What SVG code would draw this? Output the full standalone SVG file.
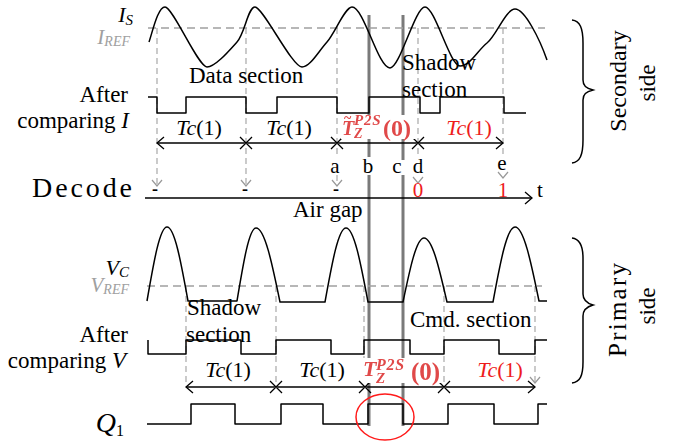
<svg xmlns="http://www.w3.org/2000/svg" width="678" height="443" viewBox="0 0 678 443">
<defs>
<style>
svg{font-family:"Liberation Serif","Times New Roman",serif;font-size:23px}
.it{font-style:italic}
.gr{fill:#a0a0a0}
.red{fill:#ee1c1c}
.tz{fill:#e04848;font-weight:bold}
.wave{fill:none;stroke:#000;stroke-width:1.5;stroke-linejoin:round}
.ref{fill:none;stroke:#a0a0a0;stroke-width:1.5;stroke-dasharray:8 5}
.vd{fill:none;stroke:#a8a8a8;stroke-width:1.2;stroke-dasharray:6 4}
.thick{stroke:#7a7a7a;stroke-width:3}
.ga{fill:none;stroke:#999;stroke-width:1.2}
.ar{fill:none;stroke:#000;stroke-width:1.3}
.brace{fill:none;stroke:#000;stroke-width:1.5}
</style>
<filter id="soft" x="-10%" y="-10%" width="120%" height="120%"><feGaussianBlur stdDeviation="0.6"/></filter>
</defs>
<rect width="678" height="443" fill="#fff"/>

<g id="marker-lines">
<line class="thick" x1="369" y1="15" x2="369" y2="426"/>
<line class="thick" x1="403" y1="15" x2="403" y2="426"/>
</g>

<g id="connectors">
<line class="ref" x1="148" y1="28" x2="545" y2="28"/>
<line class="ref" x1="147" y1="286" x2="542" y2="286"/>
<line class="vd" x1="157" y1="28" x2="157" y2="185"/>
<line class="vd" x1="246" y1="28" x2="246" y2="185"/>
<line class="vd" x1="337" y1="28" x2="337" y2="157"/>
<line class="vd" x1="337" y1="175" x2="337" y2="185"/>
<line class="vd" x1="418" y1="28" x2="418" y2="157"/>
<line class="vd" x1="503" y1="28" x2="503" y2="155"/>
<polyline class="ga" points="152,180 157,186 162,180"/>
<polyline class="ga" points="241,180 246,186 251,180"/>
<polyline class="ga" points="332,180 337,186 342,180"/>
<polyline class="ga" points="413,177 418,183 423,177"/>
<polyline class="ga" points="498,172 503,178 508,172"/>
<line class="vd" x1="186" y1="286" x2="186" y2="385"/>
<line class="vd" x1="276" y1="286" x2="276" y2="385"/>
<line class="vd" x1="364" y1="286" x2="364" y2="385"/>
<line class="vd" x1="444" y1="286" x2="444" y2="385"/>
<line class="vd" x1="535" y1="286" x2="535" y2="382"/>
<polyline class="ga" points="530,377 535,383 540,377"/>
<line class="ar" x1="157" y1="143" x2="503" y2="143"/>
<polyline class="ar" points="164,137 157,143 164,149"/>
<polyline class="ar" points="496,137 503,143 496,149"/>
<path class="ar" d="M240 137 L252 149 M240 149 L252 137 M331 137 L343 149 M331 149 L343 137 M412 137 L424 149 M412 149 L424 137"/>
<line class="ar" x1="145" y1="198" x2="532" y2="198"/>
<polyline class="ar" points="525,192 532,198 525,204"/>
<line class="ar" x1="186" y1="387" x2="535" y2="387"/>
<polyline class="ar" points="193,381 186,387 193,393"/>
<polyline class="ar" points="528,381 535,387 528,393"/>
<path class="ar" d="M270 381 L282 393 M270 393 L282 381 M359 381 L371 393 M359 393 L371 381 M438 381 L450 393 M438 393 L450 381"/>
</g>

<g id="wave-is">
<path class="wave" d="M149 42 C153 30,158 7,165 7 C173 7,198 67,207 67 C215 67,228 52,237 42 C245 33,248 7,255 7 C263 7,292 67,302 67 C310 67,318 52,327 42 C335 33,345 7,352 7 C364 7,378 68,390 68 C400 68,415 7,425 7 C435 7,450 66,460 66 C470 66,478 50,487 43 C496 36,506 9,515 9 C525 9,540 40,547 60"/>
</g>
<g id="wave-i">
<path class="wave" d="M148 97 H157 V113 H186 V97 H246 V113 H277 V97 H337 V113 H369 V97 H420 V113 H440 V97 H504 V113 H526"/>
</g>
<g id="wave-vc">
<path class="wave" d="M147 301 C153.7 262.2,159.8 227,167 227 C174.6 227,181 262.2,188 301 H237 C243.3 263.1,249.1 228,256 228 C264.7 228,272 263.1,280 302 H325 C332 263.1,338.4 228,346 228 C354 228,360.7 263.1,368 302 H403 C410 268.4,416.4 238,424 238 C432.3 238,439.3 268.4,447 302 H493 C500.3 262.1,507 227,515 227 C523.7 227,531 262.1,539 301 H547"/>
</g>
<g id="wave-v">
<path class="wave" d="M148 340 V354 H186 V340 H241 V354 H276 V340 H331 V354 H364 V340 H410 V354 H444 V340 H499 V354 H535 V340 H547"/>
</g>
<g id="wave-q1">
<path class="wave" d="M147 424 H191 V404 H235 V424 H281 V404 H323 V424 H368 V404 H403 V424 H448 V404 H494 V424 H538 V404 H547"/>
<ellipse cx="385" cy="417" rx="29" ry="23" fill="none" stroke="#ff1a1a" stroke-width="1.5"/>
</g>

<g id="braces">
<path class="brace" d="M572 20 C580 21,583 28,583 43 L583 80 C583 86,586 88,593 90 C586 92,583 94,583 100 L583 140 C583 155,580 162,572 163"/>
<path class="brace" d="M572 238 C580 239,583 246,583 258 L583 294 C583 300,586 303,593 305 C586 307,583 310,583 316 L583 362 C583 376,580 382,572 383"/>
</g>

<g id="labels-left">
<text x="133" y="22" text-anchor="end"><tspan class="it" font-size="22">I</tspan><tspan class="it" font-size="15" dy="3">S</tspan></text>
<text x="130" y="44" text-anchor="end" class="gr"><tspan class="it gr" font-size="21">I</tspan><tspan class="it gr" font-size="14" dy="2">REF</tspan></text>
<text x="128" y="102" text-anchor="end">After</text>
<text x="129" y="128" text-anchor="end">comparing <tspan class="it">I</tspan></text>
<text x="132" y="197" text-anchor="end" font-size="28" textLength="100" lengthAdjust="spacing">Decode</text>
<text x="129" y="275" text-anchor="end"><tspan class="it" font-size="22">V</tspan><tspan class="it" font-size="15" dy="2">C</tspan></text>
<text x="129" y="292" text-anchor="end" class="gr"><tspan class="it gr" font-size="21">V</tspan><tspan class="it gr" font-size="14" dy="2">REF</tspan></text>
<text x="128" y="342" text-anchor="end">After</text>
<text x="126" y="368" text-anchor="end">comparing <tspan class="it">V</tspan></text>
<text x="124" y="432" text-anchor="end"><tspan class="it" font-size="28">Q</tspan><tspan font-size="16" dy="4">1</tspan></text>
</g>

<g id="labels-sections">
<text x="189" y="83">Data section</text>
<text x="402" y="70">Shadow</text>
<text x="402" y="97">section</text>
<text x="293" y="217">Air gap</text>
<text x="187" y="315">Shadow</text>
<text x="186" y="342">section</text>
<text x="410" y="327">Cmd. section</text>
</g>

<g id="labels-tc">
<text x="199" y="135" text-anchor="middle" font-size="22"><tspan class="it">Tc</tspan>(1)</text>
<text x="289" y="135" text-anchor="middle" font-size="22"><tspan class="it">Tc</tspan>(1)</text>
<text x="469" y="135" text-anchor="middle" font-size="22" class="red"><tspan class="it red">Tc</tspan>(1)</text>
<text x="228" y="377" text-anchor="middle" font-size="22"><tspan class="it">Tc</tspan>(1)</text>
<text x="322" y="377" text-anchor="middle" font-size="22"><tspan class="it">Tc</tspan>(1)</text>
<text x="500" y="377" text-anchor="middle" font-size="22" class="red"><tspan class="it red">Tc</tspan>(1)</text>
</g>

<g id="label-tz-top">
<rect x="341" y="115" width="75" height="24" fill="#fff"/>
<text class="tz" filter="url(#soft)" font-size="20"><tspan x="344" y="123" font-size="14">~</tspan><tspan class="it tz" x="342" y="135">T</tspan><tspan class="it tz" x="354" y="125" font-size="15" letter-spacing="0.8">P2S</tspan><tspan class="it tz" x="354" y="138" font-size="14">Z</tspan><tspan x="383" y="136" font-size="24">(0)</tspan></text>
</g>
<g id="label-tz-bottom">
<rect x="363" y="358" width="80" height="25" fill="#fff"/>
<text class="tz" filter="url(#soft)" font-size="22"><tspan class="it tz" x="363" y="376">T</tspan><tspan class="it tz" x="376" y="370" font-size="16" letter-spacing="0.8">P2S</tspan><tspan class="it tz" x="376" y="383" font-size="15">Z</tspan><tspan x="411" y="380" font-size="25">(0)</tspan></text>
</g>

<g id="labels-points">
<rect x="362" y="157" width="13" height="18" fill="#fff"/>
<rect x="391" y="160" width="14" height="15" fill="#fff"/>
<text x="335" y="173" text-anchor="middle" font-size="21">a</text>
<text x="368" y="173" text-anchor="middle" font-size="21">b</text>
<text x="397" y="173" text-anchor="middle" font-size="21">c</text>
<text x="418" y="173" text-anchor="middle" font-size="21">d</text>
<text x="502" y="170" text-anchor="middle" font-size="21">e</text>
<text x="537" y="197" font-size="21">t</text>
</g>

<g id="labels-decode">
<text x="155" y="195" text-anchor="middle" font-size="18" font-weight="bold">-</text>
<text x="245" y="195" text-anchor="middle" font-size="18" font-weight="bold">-</text>
<text x="336" y="195" text-anchor="middle" font-size="18" font-weight="bold">-</text>
<text x="418" y="197" text-anchor="middle" font-size="21" class="red">0</text>
<text x="503" y="197" text-anchor="middle" font-size="21" class="red">1</text>
</g>

<g id="labels-right">
<text transform="translate(626 81) rotate(-90)" text-anchor="middle" font-size="24">Secondary</text>
<text transform="translate(655 83) rotate(-90)" text-anchor="middle">side</text>
<text transform="translate(626 310) rotate(-90)" text-anchor="middle" font-size="25" textLength="94" lengthAdjust="spacing">Primary</text>
<text transform="translate(655 306) rotate(-90)" text-anchor="middle">side</text>
</g>
</svg>
